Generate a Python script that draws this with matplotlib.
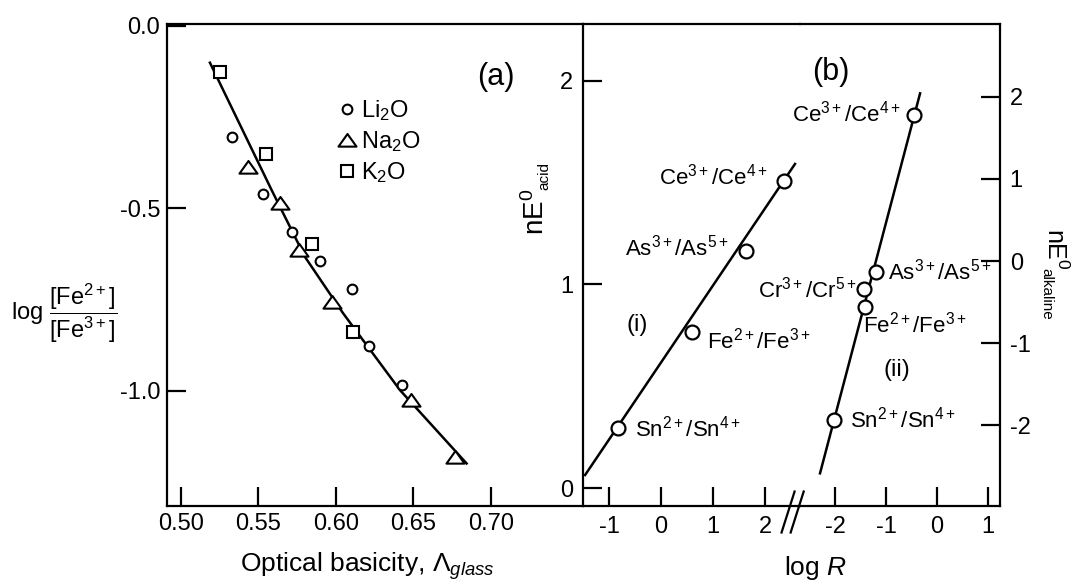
import matplotlib
matplotlib.use("Agg")
import matplotlib.pyplot as plt
from matplotlib.path import Path

plt.rcParams['font.family'] = ['Liberation Sans', 'DejaVu Sans']
plt.rcParams['mathtext.fontset'] = 'custom'
plt.rcParams['mathtext.rm'] = 'Liberation Sans'
plt.rcParams['mathtext.it'] = 'Liberation Sans:italic'
plt.rcParams['mathtext.bf'] = 'Liberation Sans:bold'
plt.rcParams['axes.unicode_minus'] = False

# ---- panel (a): redox ratio vs optical basicity ----
li_x = [0.5327, 0.5531, 0.5714, 0.5897, 0.6101, 0.6213, 0.6428]
li_y = [-0.304, -0.461, -0.564, -0.644, -0.722, -0.876, -0.984]
na_x = [0.5434, 0.5639, 0.5760, 0.5976, 0.6484, 0.6768]
na_y = [-0.386, -0.486, -0.614, -0.756, -1.025, -1.181]
k_x = [0.5252, 0.5546, 0.5843, 0.6108]
k_y = [-0.126, -0.351, -0.598, -0.838]
fit_x = [0.5187, 0.5585, 0.5800, 0.6047, 0.6413, 0.6843]
fit_y = [-0.101, -0.450, -0.633, -0.788, -0.998, -1.199]
a_xticks = [0.50, 0.55, 0.60, 0.65, 0.70]
a_xticklabels = ['0.50', '0.55', '0.60', '0.65', '0.70']
a_yticks = [0.0, -0.5, -1.0]
a_yticklabels = ['0.0', '-0.5', '-1.0']

# ---- panel (b): nE0 vs log R ----
acid_names = ['Sn$^{2+}$/Sn$^{4+}$', 'Fe$^{2+}$/Fe$^{3+}$',
              'As$^{3+}$/As$^{5+}$', 'Ce$^{3+}$/Ce$^{4+}$']
acid_logR = [-0.82, 0.588, 1.625, 2.36]
acid_nE = [0.293, 0.767, 1.165, 1.507]
acid_line_x = [-1.46, 2.571]
acid_line_y = [0.064, 1.591]

alk_names = ['Ce$^{3+}$/Ce$^{4+}$', 'As$^{3+}$/As$^{5+}$', 'Cr$^{3+}$/Cr$^{5+}$',
             'Fe$^{2+}$/Fe$^{3+}$', 'Sn$^{2+}$/Sn$^{4+}$']
alk_logR = [-0.443, -1.197, -1.433, -1.413, -2.024]
alk_nE = [1.78, -0.130, -0.345, -0.557, -1.937]
alk_line_x = [-2.299, -0.329]
alk_line_y = [-2.587, 2.043]

W, H = 1072, 587
fig = plt.figure(figsize=(W / 100, H / 100), dpi=100)

def box(x0, x1, y0=24, y1=506):
    return [x0 / W, (H - y1) / H, (x1 - x0) / W, (y1 - y0) / H]

ax_a = fig.add_axes(box(167, 583))
ax_i = fig.add_axes(box(583, 800))
ax_ii = fig.add_axes(box(800, 1000))

lw = 1.6
for ax in (ax_a, ax_i, ax_ii):
    ax.patch.set_visible(False)
    for s in ax.spines.values():
        s.set_linewidth(lw)
    ax.tick_params(direction='in', length=14, width=lw, labelsize=17)
ax_a.tick_params(pad=5)
ax_i.tick_params(pad=7)
ax_ii.tick_params(pad=7)

# panel (a)
ax_a.plot(fit_x, fit_y, color='black', lw=1.8, zorder=2)
mk = dict(ls='none', color='black', mfc='white', mew=1.5, zorder=3)
tri = Path([(-1, -0.68), (1, -0.68), (0, 0.72), (-1, -0.68)], closed=True)
ax_a.plot(li_x, li_y, marker='o', ms=7, label='Li$_2$O', **mk)
ax_a.plot(na_x, na_y, marker=tri, ms=13, label='Na$_2$O', **mk)
ax_a.plot(k_x, k_y, marker='s', ms=8, label='K$_2$O', **mk)
ax_a.set_xlim(0.491, 0.7594)
ax_a.set_ylim(-1.3156, 0.005)
ax_a.set_xticks(a_xticks)
ax_a.set_xticklabels(a_xticklabels)
ax_a.set_yticks(a_yticks)
ax_a.set_yticklabels(a_yticklabels)
ax_a.spines['right'].set_visible(False)
ax_a.legend(loc='upper left', bbox_to_anchor=(0.409, 0.846), frameon=False,
            fontsize=17, handlelength=0.8, handletextpad=0.2, labelspacing=0.25,
            borderpad=0, borderaxespad=0, numpoints=1)

# panel (b), line (i): acidic scale on the left axis
mk2 = dict(ls='none', marker='o', ms=10, color='black', mfc='white', mew=1.6, zorder=3)
ax_i.plot(acid_line_x, acid_line_y, color='black', lw=1.8, zorder=2)
ax_i.plot(acid_logR, acid_nE, **mk2)
ax_i.set_xlim(-1.5, 2.667)
ax_i.set_ylim(-0.088, 2.278)
ax_i.set_xticks([-1, 0, 1, 2])
ax_i.set_yticks([0, 1, 2])
ax_i.spines['right'].set_visible(False)
acid_off = [(12, 0, 'left'), (11, -6, 'left'), (-12, 2, 'right'), (-12, 3, 'right')]
for name, x, y, (dx, dy, ha) in zip(acid_names, acid_logR, acid_nE, acid_off):
    ax_i.annotate(name, (x, y), xytext=(dx, dy), textcoords='offset points',
                  ha=ha, va='center', fontsize=16, zorder=5)
ax_i.text(-0.46, 0.80, '(i)', fontsize=17, ha='center', va='center')

# panel (b), line (ii): alkaline scale on the right axis
ax_ii.plot(alk_line_x, alk_line_y, color='black', lw=1.8, zorder=2)
ax_ii.plot(alk_logR, alk_nE, **mk2)
ax_ii.set_xlim(-2.693, 1.244)
ax_ii.set_ylim(-2.985, 2.888)
ax_ii.set_xticks([-2, -1, 0, 1])
ax_ii.set_yticks([-2, -1, 0, 1, 2])
ax_ii.yaxis.tick_right()
ax_ii.spines['left'].set_visible(False)
alk_off = [(-10, 1, 'right'), (8.5, 0, 'left'), (-5, 0, 'right'),
           (-1.5, -13, 'left'), (11.5, 0, 'left')]
for name, x, y, (dx, dy, ha) in zip(alk_names, alk_logR, alk_nE, alk_off):
    ax_ii.annotate(name, (x, y), xytext=(dx, dy), textcoords='offset points',
                   ha=ha, va='center', fontsize=16, zorder=5)
ax_ii.text(-0.78, -1.33, '(ii)', fontsize=17, ha='center', va='center')

# axis break marks on the bottom axis
for cx in (0.945, 0.987):
    ax_i.plot([cx - 0.03, cx + 0.03], [-0.055, 0.03], color='black', lw=1.6,
              transform=ax_i.transAxes, clip_on=False)

# labels
fig.text(496 / W, 1 - 77 / H, '(a)', fontsize=22, ha='center', va='center')
fig.text(831 / W, 1 - 72 / H, '(b)', fontsize=22, ha='center', va='center')
fig.text(367 / W, 1 - 566 / H, r'Optical basicity, $\mathit{\Lambda}_{glass}$',
         fontsize=19, ha='center', va='center')
fig.text(815 / W, 1 - 568 / H, 'log $R$', fontsize=19, ha='center', va='center')
fig.text(11 / W, 1 - 313 / H,
         r'log $\dfrac{[\mathrm{Fe}^{2+}]}{[\mathrm{Fe}^{3+}]}$',
         fontsize=17, ha='left', va='center')
fig.text(536 / W, 1 - 212 / H, r'nE$^0$', fontsize=20,
         rotation=90, ha='center', va='center')
fig.text(544 / W, 1 - 176 / H, 'acid', fontsize=11,
         rotation=90, ha='center', va='center')
fig.text(1055 / W, 1 - 249 / H, r'nE$^0$', fontsize=18,
         rotation=270, ha='center', va='center')
fig.text(1046 / W, 1 - 294 / H, 'alkaline', fontsize=11,
         rotation=270, ha='center', va='center')

fig.savefig('out.png', dpi=100)
